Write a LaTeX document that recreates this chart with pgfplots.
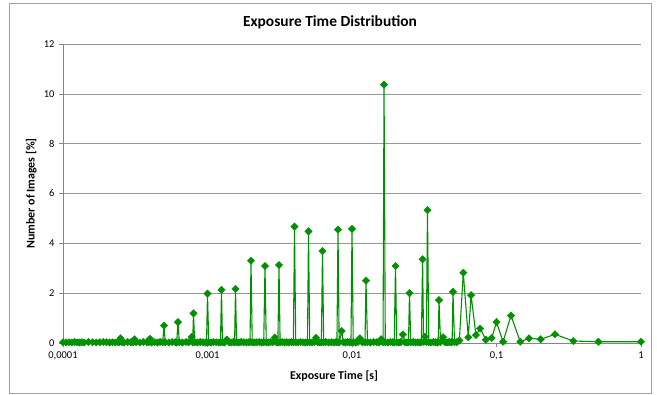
\documentclass[border=0pt]{standalone}
\usepackage{fontspec}
\setmainfont{Carlito}
\usepackage{pgfplots}
\usepackage{pgfplotstable}
\pgfplotsset{compat=1.18}
\definecolor{serie}{RGB}{0,145,0}
\definecolor{axgray}{RGB}{134,134,134}
\definecolor{gridgray}{RGB}{150,150,150}
\definecolor{framegray}{RGB}{160,160,160}
\pgfplotstableread{
x y
0.000100 0.03
0.000105 0.02
0.000110 0.03
0.000115 0.02
0.000120 0.04
0.000125 0.03
0.000130 0.02
0.000135 0.03
0.000140 0.02
0.000150 0.04
0.000160 0.03
0.000170 0.02
0.000180 0.03
0.000190 0.04
0.000200 0.03
0.000210 0.02
0.000220 0.03
0.000230 0.02
0.000240 0.04
0.000245 0.03
0.000250 0.19
0.000255 0.03
0.000265 0.02
0.000280 0.04
0.000295 0.03
0.000305 0.02
0.0003125 0.15
0.000320 0.03
0.000340 0.02
0.000360 0.04
0.000380 0.03
0.000392 0.03
0.000400 0.17
0.000410 0.02
0.000430 0.03
0.000450 0.02
0.000470 0.04
0.000490 0.03
0.000500 0.70
0.000510 0.03
0.000540 0.02
0.000570 0.04
0.000600 0.03
0.000612 0.02
0.000625 0.84
0.000638 0.03
0.000670 0.02
0.000710 0.04
0.000740 0.03
0.000778 0.25
0.000790 0.03
0.000800 1.19
0.000815 0.03
0.000850 0.02
0.000890 0.04
0.000930 0.03
0.000970 0.02
0.000985 0.03
0.00100 1.98
0.00102 0.03
0.00106 0.02
0.00110 0.04
0.00115 0.03
0.00120 0.02
0.00123 0.03
0.00125 2.13
0.00127 0.03
0.00131 0.02
0.00136 0.14
0.00141 0.03
0.00146 0.02
0.00151 0.04
0.00154 0.03
0.0015625 2.17
0.00159 0.03
0.00165 0.02
0.00171 0.04
0.00178 0.03
0.00186 0.02
0.00193 0.03
0.00197 0.04
0.00200 3.30
0.00204 0.03
0.00211 0.02
0.00219 0.03
0.00228 0.04
0.00237 0.02
0.00245 0.03
0.00250 3.09
0.00255 0.03
0.00264 0.02
0.00274 0.04
0.00283 0.03
0.00292 0.22
0.00300 0.03
0.00307 0.02
0.003125 3.13
0.00318 0.03
0.00329 0.04
0.00341 0.02
0.00353 0.03
0.00366 0.02
0.00380 0.04
0.00393 0.03
0.00400 4.67
0.00408 0.03
0.00423 0.02
0.00440 0.04
0.00458 0.03
0.00476 0.02
0.00492 0.03
0.00500 4.48
0.00510 0.03
0.00530 0.02
0.00550 0.04
0.00564 0.21
0.00580 0.03
0.00600 0.02
0.00614 0.03
0.00625 3.69
0.00637 0.03
0.00660 0.04
0.00690 0.02
0.00720 0.03
0.00750 0.02
0.00775 0.04
0.00787 0.03
0.00800 4.55
0.00815 0.03
0.00849 0.48
0.00870 0.03
0.00900 0.02
0.00930 0.04
0.00960 0.03
0.00984 0.02
0.0100 4.58
0.0102 0.03
0.0106 0.02
0.0110 0.04
0.01135 0.19
0.0118 0.03
0.0123 0.02
0.0125 2.50
0.0128 0.03
0.0134 0.02
0.0141 0.04
0.0148 0.03
0.0154 0.02
0.0159 0.15
0.0164 0.03
0.016667 10.37
0.0170 0.03
0.0177 0.02
0.0184 0.04
0.0191 0.03
0.0196 0.02
0.0200 3.09
0.0204 0.03
0.0211 0.02
0.0218 0.04
0.0225 0.34
0.0232 0.03
0.0240 0.02
0.0246 0.03
0.0250 2.00
0.0255 0.03
0.0265 0.04
0.0275 0.02
0.0285 0.03
0.0295 0.02
0.0302 0.04
0.0308 3.36
0.0313 0.05
0.0320 0.25
0.0327 0.04
0.0333 5.33
0.0340 0.03
0.0352 0.02
0.0365 0.04
0.0378 0.03
0.0390 0.02
0.0395 0.03
0.0400 1.72
0.0410 0.04
0.0427 0.23
0.0440 0.03
0.0455 0.02
0.0470 0.04
0.0485 0.03
0.0493 0.05
0.0500 2.05
0.0512 0.04
0.0530 0.03
0.0553 0.10
0.0589 2.82
0.0638 0.23
0.0667 1.92
0.0721 0.32
0.0770 0.58
0.0845 0.13
0.0927 0.20
0.100 0.84
0.111 0.05
0.126 1.10
0.146 0.05
0.168 0.19
0.202 0.15
0.254 0.35
0.340 0.08
0.507 0.05
1.000 0.05
}\exposuredata
\begin{document}
\begin{tikzpicture}
\useasboundingbox (-63bp,-52bp) rectangle (594bp,343bp);
\draw[framegray, line width=0.6bp] (-54bp,-50bp) rectangle (588bp,340bp);
\begin{axis}[
  at={(0bp,0bp)}, anchor=south west,
  scale only axis, width=578bp, height=299bp,
  xmode=log, xmin=0.0001, xmax=1, ymin=0, ymax=12,
  xtick={0.0001,0.001,0.01,0.1,1},
  xticklabels={{0,0001},{0,001},{0,01},{0,1},1},
  xminorticks=false,
  ytick={0,2,4,6,8,10,12},
  ymajorgrids, grid style={gridgray, line width=0.6bp},
  axis x line*=bottom, axis y line*=left,
  axis line style={axgray, line width=0.6bp},
  every tick/.style={axgray, line width=0.6bp},
  tick align=outside, major tick length=4bp,
  /pgf/number format/assume math mode=true,
  tick label style={font=\fontsize{10.5}{12}\selectfont, black},
  xticklabel style={yshift=-1bp},
  yticklabel style={xshift=-1bp},
  xlabel={Exposure Time [s]},
  ylabel={Number of Images [\%]},
  xlabel style={font=\fontsize{12}{14}\selectfont\bfseries, at={(axis description cs:0.469,-0.11)}, anchor=center},
  ylabel style={font=\fontsize{12}{14}\selectfont\bfseries, at={(axis description cs:-0.055,0.5)}, anchor=center, rotate=0},
  clip=false,
]
\addplot[serie, line width=1.1bp, mark=square*, mark size=2.6bp, mark options={rotate=45, fill=serie, draw=serie, line width=0.4bp}] table[x=x, y=y] {\exposuredata};
\end{axis}
\node[font=\fontsize{15.5}{17}\selectfont\bfseries] at (267bp,321bp) {Exposure Time Distribution};
\end{tikzpicture}
\end{document}
